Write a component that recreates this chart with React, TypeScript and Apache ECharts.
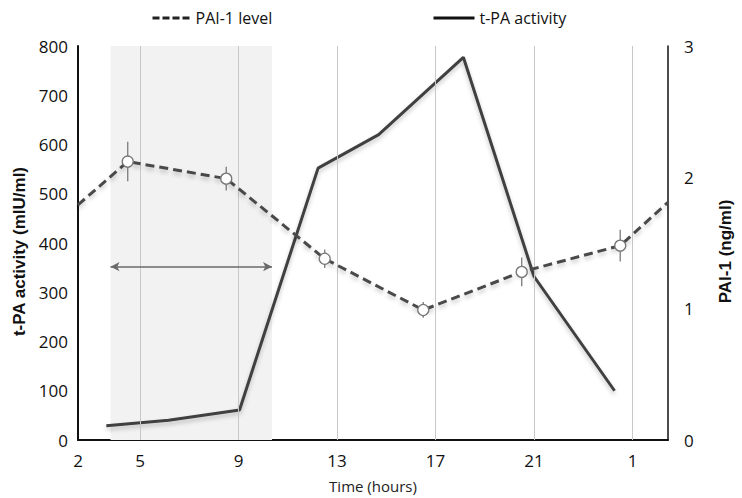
import React, { useEffect, useRef } from 'react';
import * as echarts from 'echarts';

// X axis (clock hours, continuous; 25 = 1 o'clock next day)
const xMin = 2.48;
const xMax = 26.44;
const xTickValues = [2.48, 5, 9, 13, 17, 21, 25];
const xTickLabels = ['2', '5', '9', '13', '17', '21', '1'];
const gridHours = [5, 9, 13, 17, 21, 25];

// t-PA activity (mIU/ml), left axis
const tpaHours = [3.63, 6.16, 9.04, 12.23, 14.69, 18.13, 21.0, 24.27];
const tpaActivity = [29, 40, 61, 552, 620, 777, 332, 100];

// PAI-1 level (ng/ml), right axis
const paiHours = [2.48, 4.5, 8.5, 12.5, 16.5, 20.5, 24.5, 26.44];
const paiLevel = [1.79, 2.12, 1.99, 1.38, 0.99, 1.28, 1.48, 1.81];
const paiError = [0, 0.15, 0.09, 0.07, 0.06, 0.11, 0.12, 0];
const paiMeasured = [false, true, true, true, true, true, true, false];

// shaded period and double arrow
const shadeRange = [3.8, 10.36];
const arrowLevel = 352;

const leftTicks = { min: 0, max: 800, interval: 100 };
const rightTicks = { min: 0, max: 3, interval: 1 };

const FONT = "'Open Sans', sans-serif";
const BOLD = "'Liberation Sans', Arial, sans-serif";

function buildOption() {
  const paiData = paiHours.map((h, i) =>
    paiMeasured[i]
      ? { value: [h, paiLevel[i]] }
      : { value: [h, paiLevel[i]], symbol: 'none' }
  );
  const errData = paiHours
    .map((h, i) => [h, paiLevel[i], paiError[i]])
    .filter((_, i) => paiMeasured[i]);

  return {
    animation: false,
    backgroundColor: '#ffffff',
    grid: { left: 78, right: 64, top: 46, bottom: 57, containLabel: false },
    legend: [
      {
        data: ['PAI-1 level'],
        left: 146,
        top: 5,
        itemWidth: 38,
        itemHeight: 14,
        selectedMode: false,
        itemStyle: { opacity: 0 },
        lineStyle: { color: '#222', width: 3, type: [7, 3] },
        textStyle: { fontSize: 16, fontFamily: FONT, color: '#111' },
      },
      {
        data: ['t-PA activity'],
        left: 427,
        top: 5,
        itemWidth: 41,
        itemHeight: 14,
        selectedMode: false,
        itemStyle: { opacity: 0 },
        lineStyle: { color: '#111', width: 3, type: 'solid' },
        textStyle: { fontSize: 16, fontFamily: FONT, color: '#111' },
      },
    ],
    xAxis: {
      type: 'value',
      min: xMin,
      max: xMax,
      axisLine: { show: true, lineStyle: { color: '#111', width: 2 } },
      axisTick: { show: false },
      splitLine: { show: false },
      axisLabel: {
        customValues: xTickValues,
        formatter: (v: number) => {
          const i = xTickValues.findIndex((t) => Math.abs(t - v) < 1e-6);
          return i >= 0 ? xTickLabels[i] : '';
        },
        showMinLabel: true,
        showMaxLabel: true,
        fontSize: 17,
        fontFamily: FONT,
        color: '#111',
        margin: 12,
      },
      name: 'Time (hours)',
      nameLocation: 'middle',
      nameGap: 38,
      nameTextStyle: { fontSize: 15, fontFamily: FONT, color: '#222' },
    },
    yAxis: [
      {
        type: 'value',
        position: 'left',
        ...leftTicks,
        axisLine: { show: true, lineStyle: { color: '#111', width: 2 } },
        axisTick: { show: false },
        splitLine: { show: false },
        axisLabel: { fontSize: 17, fontFamily: FONT, color: '#111', margin: 10 },
        name: 't-PA activity (mIU/ml)',
        nameLocation: 'middle',
        nameGap: 50,
        nameTextStyle: {
          fontSize: 17,
          fontWeight: 'bold',
          fontFamily: BOLD,
          color: '#111',
          padding: [0, 17, 0, 0],
        },
      },
      {
        type: 'value',
        position: 'right',
        ...rightTicks,
        axisLine: { show: true, lineStyle: { color: '#111', width: 1.5 } },
        axisTick: { show: false },
        splitLine: { show: false },
        axisLabel: { fontSize: 17, fontFamily: FONT, color: '#111', margin: 16 },
        name: 'PAI-1 (ng/ml)',
        nameLocation: 'middle',
        nameGap: 49,
        nameTextStyle: {
          fontSize: 17,
          fontWeight: 'bold',
          fontFamily: BOLD,
          color: '#111',
          padding: [0, 17, 0, 0],
        },
      },
    ],
    series: [
      {
        name: 'backdrop',
        type: 'line',
        data: [],
        yAxisIndex: 0,
        z: 1,
        silent: true,
        markArea: {
          silent: true,
          itemStyle: { color: '#f2f2f2' },
          data: [[{ xAxis: shadeRange[0] }, { xAxis: shadeRange[1] }]],
        },
        markLine: {
          silent: true,
          symbol: 'none',
          label: { show: false },
          lineStyle: { color: '#c8c8c8', width: 1, type: 'solid' },
          data: gridHours.map((h) => ({ xAxis: h })),
        },
      },
      {
        name: 'arrow',
        type: 'line',
        data: [],
        yAxisIndex: 0,
        z: 2,
        silent: true,
        markLine: {
          silent: true,
          symbol: ['arrow', 'arrow'],
          symbolSize: [7, 9],
          label: { show: false },
          lineStyle: { color: '#6a6a6a', width: 1.5, type: 'solid' },
          data: [
            [
              { coord: [shadeRange[0], arrowLevel] },
              { coord: [shadeRange[1], arrowLevel] },
            ],
          ],
        },
      },
      {
        name: 'errors',
        type: 'custom',
        yAxisIndex: 1,
        z: 3,
        silent: true,
        data: errData,
        renderItem: (params: any, api: any) => {
          const x = api.value(0);
          const y = api.value(1);
          const e = api.value(2);
          const top = api.coord([x, y + e]);
          const bot = api.coord([x, y - e]);
          return {
            type: 'line',
            shape: { x1: top[0], y1: top[1], x2: bot[0], y2: bot[1] },
            style: { stroke: '#7a7a7a', lineWidth: 1.3 },
          };
        },
      },
      {
        name: 't-PA activity',
        type: 'line',
        yAxisIndex: 0,
        z: 4,
        symbol: 'none',
        data: tpaHours.map((h, i) => [h, tpaActivity[i]]),
        lineStyle: {
          color: '#404040',
          width: 3,
          shadowColor: 'rgba(0,0,0,0.22)',
          shadowBlur: 4,
          shadowOffsetY: 3,
        },
        itemStyle: { color: '#404040' },
      },
      {
        name: 'PAI-1 level',
        type: 'line',
        yAxisIndex: 1,
        z: 5,
        symbol: 'circle',
        symbolSize: 11,
        data: paiData,
        lineStyle: {
          color: '#4a4a4a',
          width: 3,
          type: [9, 5],
          shadowColor: 'rgba(0,0,0,0.22)',
          shadowBlur: 4,
          shadowOffsetY: 3,
        },
        itemStyle: { color: '#ffffff', borderColor: '#777777', borderWidth: 1.3 },
      },
    ],
  };
}

export default function App() {
  const ref = useRef<HTMLDivElement>(null);
  useEffect(() => {
    document.body.style.margin = '0';
    const chart = echarts.init(ref.current!, null, { renderer: 'svg' });
    chart.setOption(buildOption() as any);
    return () => chart.dispose();
  }, []);
  return (
    <div
      ref={ref}
      style={{ position: 'absolute', left: 0, top: 0, width: 742, height: 498 }}
    />
  );
}
